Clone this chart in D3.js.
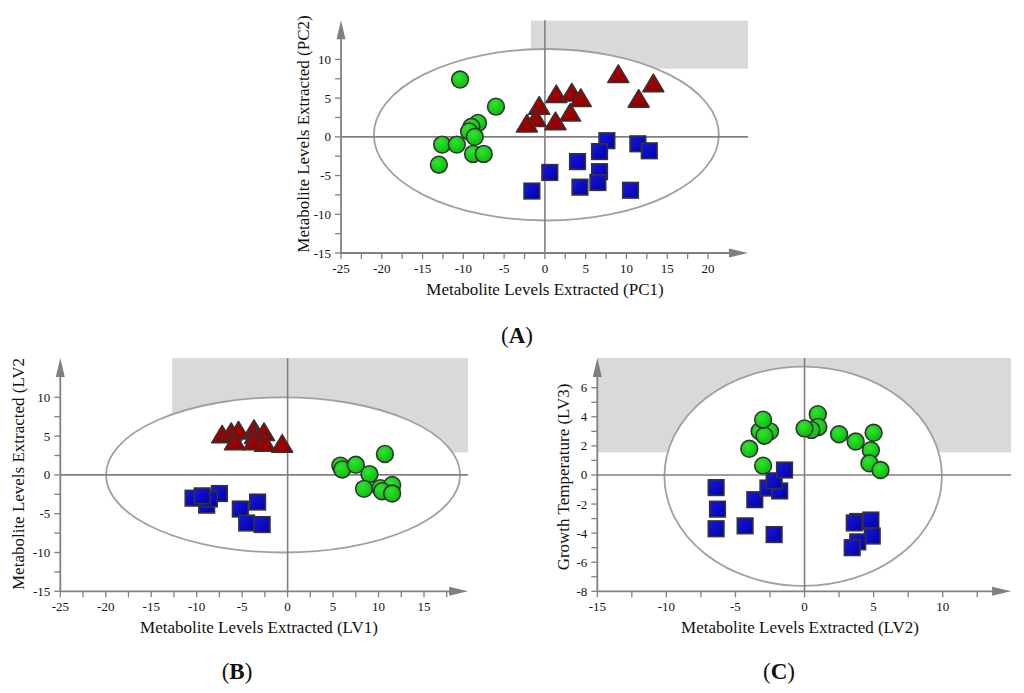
<!DOCTYPE html>
<html>
<head>
<meta charset="utf-8">
<script src="https://cdn.jsdelivr.net/npm/d3@7/dist/d3.min.js"></script>
<style>
  html, body { margin: 0; padding: 0; background: #fff; }
  svg { display: block; }
</style>
</head>
<body>
<svg id="chart" width="1024" height="693" font-family="'Liberation Serif', 'Times New Roman', 'DejaVu Serif', serif"></svg>
<script>
// ---------------- DATA ----------------
// Panel A (PC1 vs PC2)
const aGreen = [[-10.4,7.4],[-6.0,3.9],[-8.2,1.8],[-9.0,1.3],[-9.3,0.7],[-8.6,0.0],[-12.6,-1.0],[-10.8,-1.0],[-8.8,-2.2],[-7.5,-2.2],[-13.0,-3.6]];
const aRed   = [[9.0,8.0],[13.3,6.8],[11.5,4.8],[1.4,5.4],[3.3,5.6],[4.4,4.9],[-0.7,3.9],[3.1,3.0],[-1.1,2.3],[1.3,1.9],[-2.2,1.6]];
const aBlue  = [[7.6,-0.5],[6.7,-1.9],[11.4,-0.9],[12.8,-1.8],[4.0,-3.2],[6.7,-4.5],[0.6,-4.6],[6.5,-5.9],[4.3,-6.5],[10.5,-6.9],[-1.6,-7.0]];
const aXTicks = [-25,-20,-15,-10,-5,0,5,10,15,20];
const aYTicks = [-15,-10,-5,0,5,10];

// Panel B (LV1 vs LV2)
const bRed   = [[-7.2,5.1],[-6.2,5.4],[-5.4,5.6],[-3.7,5.8],[-2.6,5.4],[-3.6,5.0],[-5.8,4.2],[-3.7,4.2],[-2.5,4.0],[-0.6,3.9]];
const bGreen = [[5.8,1.2],[6.0,0.7],[7.5,1.3],[10.7,2.7],[9.0,0.1],[8.4,-1.8],[10.2,-1.7],[11.5,-1.3],[10.4,-2.1],[11.5,-2.4]];
const bBlue  = [[-10.4,-3.0],[-7.5,-2.4],[-8.9,-3.9],[-8.6,-3.1],[-9.4,-2.7],[-5.2,-4.4],[-3.3,-3.5],[-4.5,-6.2],[-2.8,-6.4]];
const bXTicks = [-25,-20,-15,-10,-5,0,5,10,15];
const bYTicks = [-15,-10,-5,0,5,10];

// Panel C (LV2 vs LV3)
const cGreen = [[0.96,4.18],[1.0,3.3],[0.5,3.1],[0.0,3.2],[2.5,2.8],[3.7,2.3],[5.0,2.9],[4.8,1.7],[4.7,0.8],[5.5,0.34],[-3.25,3.0],[-2.5,3.0],[-2.9,2.7],[-3.0,3.8],[-4.0,1.8],[-3.0,0.64]];
const cBlue  = [[-6.4,-0.87],[-6.3,-2.35],[-6.4,-3.7],[-4.3,-3.5],[-2.2,-4.1],[-3.6,-1.7],[-2.65,-0.9],[-1.8,-1.1],[-2.2,-0.4],[-1.45,0.34],[3.85,-3.2],[3.6,-3.3],[4.8,-3.1],[4.9,-4.2],[3.85,-4.6],[3.45,-5.0]];
const cXTicks = [-15,-10,-5,0,5,10];
const cYTicks = [-8,-6,-4,-2,0,2,4,6];

// ---------------- DRAWING ----------------
const svg = d3.select("#chart");
const defs = svg.append("defs");
function radial(id, c0, c1) {
  const g = defs.append("radialGradient").attr("id", id).attr("cx","40%").attr("cy","35%").attr("r","70%");
  g.append("stop").attr("offset","0%").attr("stop-color", c0);
  g.append("stop").attr("offset","100%").attr("stop-color", c1);
}
function linear(id, c0, c1) {
  const g = defs.append("linearGradient").attr("id", id).attr("x1","0").attr("y1","0").attr("x2","1").attr("y2","1");
  g.append("stop").attr("offset","0%").attr("stop-color", c0);
  g.append("stop").attr("offset","100%").attr("stop-color", c1);
}
radial("gGreen", "#2ee62e", "#0bb80b");
linear("gBlue", "#1818e0", "#0000a8");
linear("gRed", "#b00000", "#8a0000");

const AX = "#808080";
const FONT = "'Liberation Serif', 'Times New Roman', 'DejaVu Serif', serif";

function panel(cfg) {
  const g = svg.append("g").attr("font-family", FONT);
  const x = d3.scaleLinear().domain(cfg.xd).range(cfg.xr);
  const y = d3.scaleLinear().domain(cfg.yd).range(cfg.yr);
  const x0 = x(cfg.xd[0]), y0 = y(cfg.yd[0]);
  const xEnd = x(cfg.xMax), yEnd = y(cfg.yMax);

  g.append("rect")
    .attr("x", x(cfg.box[0])).attr("y", y(cfg.box[3]))
    .attr("width", x(cfg.box[1]) - x(cfg.box[0]))
    .attr("height", y(cfg.box[2]) - y(cfg.box[3]))
    .attr("fill", "#d9d9d9");

  g.append("ellipse")
    .attr("cx", x(cfg.ell[0])).attr("cy", y(cfg.ell[1]))
    .attr("rx", x(cfg.ell[0] + cfg.ell[2]) - x(cfg.ell[0]))
    .attr("ry", y(cfg.ell[1]) - y(cfg.ell[1] + cfg.ell[3]))
    .attr("fill", "#fff").attr("stroke", "#a0a0a0").attr("stroke-width", 1.8);

  g.append("line").attr("x1", x0).attr("x2", xEnd).attr("y1", y(0)).attr("y2", y(0))
    .attr("stroke", AX).attr("stroke-width", 1.6);
  g.append("line").attr("x1", x(0)).attr("x2", x(0)).attr("y1", y0).attr("y2", yEnd)
    .attr("stroke", AX).attr("stroke-width", 1.6);

  g.append("line").attr("x1", x0).attr("x2", xEnd - 16).attr("y1", y0).attr("y2", y0)
    .attr("stroke", AX).attr("stroke-width", 1.8);
  g.append("line").attr("x1", x0).attr("x2", x0).attr("y1", y0).attr("y2", yEnd + 16)
    .attr("stroke", AX).attr("stroke-width", 1.8);
  g.append("path").attr("d", `M${xEnd},${y0} L${xEnd-19},${y0-4.5} L${xEnd-19},${y0+4.5} Z`).attr("fill", AX);
  g.append("path").attr("d", `M${x0},${yEnd} L${x0-4.5},${yEnd+19} L${x0+4.5},${yEnd+19} Z`).attr("fill", AX);

  const xt = d3.range(cfg.xd[0], cfg.xTickMax + 1e-9, cfg.xMinor);
  const yt = d3.range(cfg.yd[0], cfg.yTickMax + 1e-9, cfg.yMinor);
  g.selectAll(".xt").data(xt).join("line")
    .attr("x1", d => x(d)).attr("x2", d => x(d)).attr("y1", y0).attr("y2", y0 + 6)
    .attr("stroke", AX).attr("stroke-width", 1.3);
  g.selectAll(".yt").data(yt).join("line")
    .attr("y1", d => y(d)).attr("y2", d => y(d)).attr("x1", x0 - 6).attr("x2", x0)
    .attr("stroke", AX).attr("stroke-width", 1.3);

  g.selectAll(".xl").data(cfg.xTicks).join("text")
    .attr("x", d => x(d)).attr("y", y0 + 20).attr("text-anchor", "middle")
    .attr("font-size", 13).attr("fill", "#111").text(d => d);
  g.selectAll(".yl").data(cfg.yTicks).join("text")
    .attr("x", x0 - 10).attr("y", d => y(d) + 4.5).attr("text-anchor", "end")
    .attr("font-size", 13).attr("fill", "#111").text(d => d);

  g.append("text").attr("x", cfg.xTitlePos[0]).attr("y", cfg.xTitlePos[1])
    .attr("text-anchor", "middle").attr("font-size", 17).attr("fill", "#111").text(cfg.xTitle);
  g.append("text")
    .attr("transform", `translate(${cfg.yTitlePos[0]},${cfg.yTitlePos[1]}) rotate(-90)`)
    .attr("text-anchor", cfg.yTitleAnchor).attr("font-size", 17).attr("fill", "#111").text(cfg.yTitle);

  const pl = g.append("text").attr("x", cfg.label[0]).attr("y", cfg.label[1])
    .attr("text-anchor", "middle").attr("font-size", 23).attr("fill", "#111");
  pl.append("tspan").text("(");
  pl.append("tspan").attr("font-weight", "bold").text(cfg.label[2]);
  pl.append("tspan").text(")");

  const markers = g.append("g");
  const stroke = "#333";
  (cfg.circles || []).forEach(series => {
    markers.selectAll(null).data(series).join("circle")
      .attr("cx", d => x(d[0])).attr("cy", d => y(d[1])).attr("r", 8.4)
      .attr("fill", "url(#gGreen)").attr("stroke", stroke).attr("stroke-width", 1.6);
  });
  (cfg.triangles || []).forEach(series => {
    markers.selectAll(null).data(series).join("path")
      .attr("d", d => {
        const cx = x(d[0]), cy = y(d[1]);
        return `M${cx},${cy-10} L${cx+10.5},${cy+7.5} L${cx-10.5},${cy+7.5} Z`;
      })
      .attr("fill", "url(#gRed)").attr("stroke", stroke).attr("stroke-width", 1.5).attr("stroke-linejoin", "round");
  });
  (cfg.squares || []).forEach(series => {
    markers.selectAll(null).data(series).join("rect")
      .attr("x", d => x(d[0]) - 7.8).attr("y", d => y(d[1]) - 7.8)
      .attr("width", 15.6).attr("height", 15.6)
      .attr("fill", "url(#gBlue)").attr("stroke", stroke).attr("stroke-width", 1.6);
  });
}

panel({
  xd: [-25, 20], xr: [341, 708], yd: [-15, 10], yr: [253, 59.4],
  xMax: 24.9, yMax: 15.05, xTickMax: 20, yTickMax: 10, xMinor: 2.5, yMinor: 2.5,
  xTicks: aXTicks, yTicks: aYTicks,
  box: [-1.7, 24.9, 8.8, 15.0], ell: [0.18, 0.27, 21.15, 11.07],
  xTitle: "Metabolite Levels Extracted (PC1)", xTitlePos: [545, 295],
  yTitle: "Metabolite Levels Extracted (PC2)", yTitlePos: [309, 134], yTitleAnchor: "middle",
  label: [517, 343, "A"],
  circles: [aGreen], triangles: [aRed], squares: [aBlue]
});

panel({
  xd: [-25, 15], xr: [60.3, 424], yd: [-15, 10], yr: [591.3, 397.3],
  xMax: 19.85, yMax: 15.05, xTickMax: 17.5, yTickMax: 10, xMinor: 2.5, yMinor: 2.5,
  xTicks: bXTicks, yTicks: bYTicks,
  box: [-12.7, 19.85, 2.9, 15.05], ell: [-0.5, 0, 19.47, 10.0],
  xTitle: "Metabolite Levels Extracted (LV1)", xTitlePos: [259, 633],
  yTitle: "Metabolite Levels Extracted  (LV2", yTitlePos: [24, 590], yTitleAnchor: "start",
  label: [237, 679, "B"],
  triangles: [bRed], circles: [bGreen], squares: [bBlue]
});

panel({
  xd: [-15, 10], xr: [597.3, 942.7], yd: [-8, 6], yr: [591.3, 387.7],
  xMax: 14.95, yMax: 8.05, xTickMax: 12.5, yTickMax: 6, xMinor: 2.5, yMinor: 1,
  xTicks: cXTicks, yTicks: cYTicks,
  box: [-15, 14.95, 1.55, 8.05], ell: [-0.1, -0.09, 10.04, 7.54],
  xTitle: "Metabolite Levels Extracted (LV2)", xTitlePos: [800, 633],
  yTitle: "Growth Temperature (LV3)", yTitlePos: [569, 477], yTitleAnchor: "middle",
  label: [779, 679, "C"],
  squares: [cBlue], circles: [cGreen]
});
</script>
</body>
</html>
